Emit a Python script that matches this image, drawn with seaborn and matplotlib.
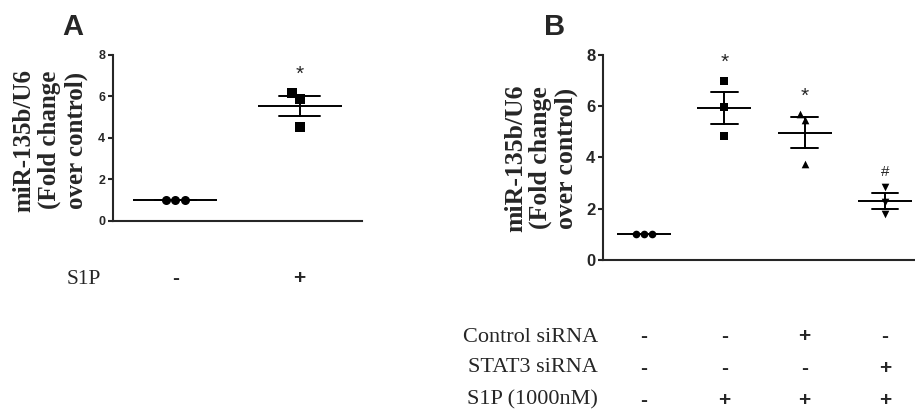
import numpy as np
import pandas as pd
import matplotlib
matplotlib.use("Agg")
import matplotlib.pyplot as plt
import matplotlib.transforms as mtransforms
import seaborn as sns

# ---- data ----
a_groups = ["ctrl", "S1P"]
a_ctrl = [1.0, 1.0, 1.0]
a_s1p = [6.15, 5.9, 4.55]
a_markers = ["o", "s"]
a_s1p_row = ["-", "+"]

b_groups = ["ctrl", "S1P", "ctrl siRNA+S1P", "STAT3 siRNA+S1P"]
b_ctrl = [1.0, 1.0, 1.0]
b_s1p = [7.0, 5.95, 4.85]
b_ctrl_sirna = [5.7, 5.45, 3.75]
b_stat3_sirna = [2.85, 2.25, 1.8]
b_markers = ["o", "s", "^", "v"]
b_rows = ["Control siRNA", "STAT3 siRNA", "S1P (1000nM)"]
b_signs = [["-", "-", "+", "-"],
           ["-", "-", "-", "+"],
           ["-", "+", "+", "+"]]
b_marks = ["", "*", "*", "#"]
b_mark_y = [0, 7.7, 6.4, 3.45]

ylabel = "miR-135b/U6\n(Fold change\nover control)"

df_a = pd.DataFrame({
    "group": [a_groups[0]] * 3 + [a_groups[1]] * 3,
    "value": a_ctrl + a_s1p,
})
df_b = pd.DataFrame({
    "group": sum([[g] * 3 for g in b_groups], []),
    "value": b_ctrl + b_s1p + b_ctrl_sirna + b_stat3_sirna,
})

sns.set_style("ticks")
plt.rcParams["font.family"] = ["Liberation Sans", "DejaVu Sans"]

fig = plt.figure(figsize=(9.15, 4.12), dpi=100)
axA = fig.add_axes([0.1235, 0.4636, 0.272, 0.403])
axB = fig.add_axes([0.659, 0.369, 0.345, 0.4976])


def draw_panel(ax, df, groups, markers, msize, meanw, tick_fs):
    for g, m in zip(groups, markers):
        sns.swarmplot(data=df[df["group"] == g], x="group", y="value",
                      order=groups, marker=m, color="black", size=msize,
                      linewidth=0, ax=ax)
    sns.pointplot(data=df, x="group", y="value", order=groups,
                  errorbar="se", capsize=0.33, color="black",
                  marker="_", markersize=meanw, markeredgewidth=1.4,
                  linestyle="none", err_kws={"linewidth": 1.4}, ax=ax)
    ax.set_ylim(0, 8)
    ax.set_yticks([0, 2, 4, 6, 8])
    ax.set_xticks([])
    ax.set_xlabel("")
    ax.set_ylabel("")
    sns.despine(ax=ax)
    for s in ["left", "bottom"]:
        ax.spines[s].set_linewidth(1.5)
    ax.tick_params(axis="y", length=3.5, width=1.5, labelsize=tick_fs, pad=2)
    for t in ax.get_yticklabels():
        t.set_fontweight("bold")


draw_panel(axA, df_a, a_groups, a_markers, 6.5, 60, 9)
axA.set_xlim(-0.5, 1.5)
draw_panel(axB, df_b, b_groups, b_markers, 5.5, 39, 12)
axB.set_xlim(-0.51, 3.42)

# significance marks
axA.text(1, 7.05, "*", ha="center", va="center", fontsize=15)
for i, (mk, y) in enumerate(zip(b_marks, b_mark_y)):
    if mk:
        axB.text(i, y, mk, ha="center", va="center",
                 fontsize=15 if mk == "*" else 11)

# y labels
serif = ["Liberation Serif", "DejaVu Serif"]
fig.text(50 / 915, 1 - 140 / 412, ylabel, rotation=90, ha="center",
         va="center", fontsize=18, fontweight="bold", family=serif,
         linespacing=1.15, multialignment="center")
fig.text(541 / 915, 1 - 158 / 412, ylabel, rotation=90, ha="center",
         va="center", fontsize=18.5, fontweight="bold", family=serif,
         linespacing=1.1, multialignment="center")

# panel letters
fig.text(73 / 915, 1 - 27 / 412, "A", ha="center", va="center",
         fontsize=21, fontweight="bold")
fig.text(555 / 915, 1 - 27 / 412, "B", ha="center", va="center",
         fontsize=21, fontweight="bold")

# condition table under panel A
trA = mtransforms.blended_transform_factory(axA.transData, fig.transFigure)
fig.text(67 / 915, 1 - 279 / 412, "S1P", ha="left", va="center",
         fontsize=15.5, family=serif)
for i, s in enumerate(a_s1p_row):
    axA.text(i, 1 - 279 / 412, s, transform=trA, ha="center", va="center",
             fontsize=15, fontweight="bold")

# condition table under panel B
trB = mtransforms.blended_transform_factory(axB.transData, fig.transFigure)
row_y = [337, 368, 400]
for label, signs, y in zip(b_rows, b_signs, row_y):
    fig.text(598 / 915, 1 - y / 412, label, ha="right", va="center",
             fontsize=16, family=serif)
    for i, s in enumerate(signs):
        axB.text(i, 1 - y / 412, s, transform=trB, ha="center", va="center",
                 fontsize=15, fontweight="bold")

fig.savefig("out.png", dpi=100)
